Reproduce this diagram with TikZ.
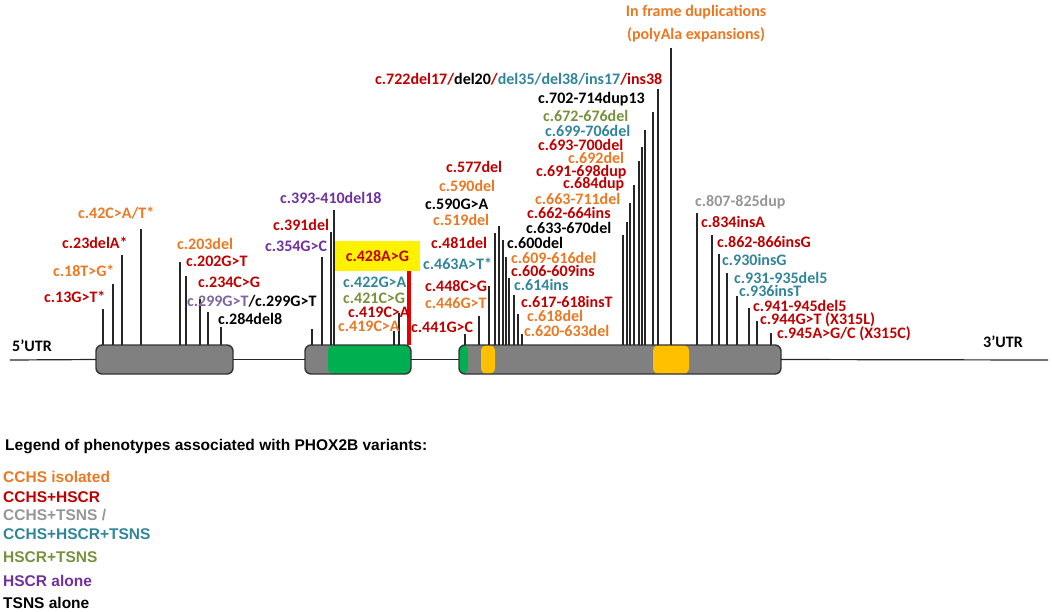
\documentclass[tikz,border=0pt]{standalone}
\usepackage{fontspec}
\setmainfont{Carlito}
\newfontfamily\legfont{Liberation Sans}
\usetikzlibrary{positioning, calc}
\definecolor{corange}{RGB}{235,120,35}
\definecolor{cred}{RGB}{192,0,0}
\definecolor{cteal}{RGB}{49,133,155}
\definecolor{colive}{RGB}{118,146,60}
\definecolor{cpurple}{RGB}{112,48,160}
\definecolor{clpurple}{RGB}{128,100,162}
\definecolor{cgray}{RGB}{150,150,150}
\definecolor{exgray}{RGB}{128,128,128}
\definecolor{exgreen}{RGB}{0,176,80}
\definecolor{gold}{RGB}{255,192,0}
\tikzset{
    lab/.style={font=\fontsize{16}{18}\selectfont\bfseries, inner sep=0pt, anchor=west}, % variant labels
    leg/.style={font=\legfont\fontsize{15.5}{18}\selectfont\bfseries, inner sep=0pt, anchor=west}, % legend lines
    tick/.style={line width=1.2pt, black!85}, % variant position marks
    exon/.style={draw=black!80, line width=1.4pt, fill=exgray, rounded corners=6pt,
        minimum height=29pt, inner sep=0pt, outer sep=0pt}, % exon boxes
    gene/.style={line width=1.2pt, black!85}, % intron / UTR line
}

\begin{document}
\begin{tikzpicture}[x=1pt, y=-1pt]
    \useasboundingbox (0,0) rectangle (1052,611);

    % gene structure
    \coordinate (s) at (10,360);
    \coordinate (e) at (1048,360);
    \node[exon, minimum width=137pt] (ex1) at (164.5,359.5) {};
    \node[exon, minimum width=106pt, path picture={
        \fill[exgreen] ([xshift=23pt]path picture bounding box.south west) rectangle (path picture bounding box.north east);
    }] (ex2) at (358,359.5) {};
    \node[exon, minimum width=322pt, path picture={
        \fill[exgreen] (path picture bounding box.south west) rectangle ([xshift=9pt]path picture bounding box.north west);
        \fill[gold] ([xshift=22pt]path picture bounding box.south west) rectangle ([xshift=36pt]path picture bounding box.north west);
        \fill[gold] ([xshift=194pt]path picture bounding box.south west) rectangle ([xshift=230pt]path picture bounding box.north west);
    }] (ex3) at (620,359.5) {};
    \draw[gene] (s) -- (ex1.west);
    \draw[gene] (ex1.east) -- (ex2.west);
    \draw[gene] (ex2.east) -- (ex3.west);
    \draw[gene] (ex3.east) -- (e);
    \node[lab] (utr5) at (12,346) {5’UTR};
    \node[lab] (utr3) at (983,342) {3’UTR};

    % variant marks
    \foreach \x/\t in {103/309, 113/284, 122/255, 141/229, 180/262, 186/276, 200/299, 208/312, 221/327,
        312/329, 322/257, 331/232, 334/210, 394/331, 399/313,
        465/334, 479/316, 489/286, 495/233, 499/226, 503/240, 506/257, 509/278, 514/295, 518/314, 522/334,
        623/235, 627/222, 630/203, 634/185, 639/161, 642/147, 645/130, 653/112, 658/89, 671/48,
        697/213, 712/235, 719/254, 727/273, 737/296, 749/308, 757/321, 771/333}
        \draw[tick] (\x,\t) -- (\x,345);

    % exon 1
    \node[lab, text=cred] (l13) at (44,297) {c.13G>T*};
    \node[lab, text=corange] (l18) at (53,271) {c.18T>G*};
    \node[lab, text=cred] (l23) at (62,243) {c.23delA*};
    \node[lab, text=corange] (l42) at (78,213) {c.42C>A/T*};
    \node[lab, text=corange] (l203) at (177,244) {c.203del};
    \node[lab, text=cred] (l202) at (186,261) {c.202G>T};
    \node[lab, text=cred] (l234) at (198,282) {c.234C>G};
    \node[lab] (l299) at (187,301) {\color{clpurple}c.299G>T\color{black}/c.299G>T};
    \node[lab] (l284) at (218,319) {c.284del8};

    % exon 2
    \node[lab, text=cpurple] (l354) at (265,246) {c.354G>C};
    \node[lab, text=cred] (l391) at (273,225) {c.391del};
    \node[lab, text=cpurple] (l393) at (280,198) {c.393-410del18};
    \node[lab, anchor=center, fill=yellow, minimum width=85pt, minimum height=30pt, text=cred] (l428) at (377.5,256) {c.428A>G};
    \draw[line width=4pt, red!90!black] ([xshift=-11pt]l428.south east) -- ([xshift=-11pt]l428.south east |- ex2.north);
    \node[lab, text=cteal] (l422) at (343,282) {c.422G>A};
    \node[lab, text=colive] (l421) at (343,298) {c.421C>G};
    \node[lab, text=cred] (l419a) at (348,312) {c.419C>A};
    \node[lab, text=corange] (l419b) at (338,326) {c.419C>A};

    % exon 3
    \node[lab, text=cred] (l441) at (411,327) {c.441G>C};
    \node[lab, text=corange] (l446) at (425,303) {c.446G>T};
    \node[lab, text=cred] (l448) at (425,286) {c.448C>G};
    \node[lab, text=cteal] (l463) at (423,264) {c.463A>T*};
    \node[lab, text=cred] (l481) at (431,243) {c.481del};
    \node[lab, text=corange] (l519) at (433,220) {c.519del};
    \node[lab] (l590g) at (425,204) {c.590G>A};
    \node[lab, text=corange] (l590d) at (439,186) {c.590del};
    \node[lab, text=cred] (l577) at (446,167) {c.577del};
    \node[lab] (l600) at (507,243) {c.600del};
    \node[lab, text=corange] (l609) at (511,258) {c.609-616del};
    \node[lab, text=cred] (l606) at (511,271) {c.606-609ins};
    \node[lab, text=cteal] (l614) at (514,285) {c.614ins};
    \node[lab, text=cred] (l617) at (521,302) {c.617-618insT};
    \node[lab, text=corange] (l618) at (527,316) {c.618del};
    \node[lab, text=corange] (l620) at (524,331) {c.620-633del};
    \node[lab] (l633) at (526,228) {c.633-670del};
    \node[lab, text=cred] (l662) at (527,213) {c.662-664ins};
    \node[lab, text=corange] (l663) at (535,199) {c.663-711del};
    \node[lab, text=cred] (l684) at (563,184) {c.684dup};
    \node[lab, text=cred] (l691) at (536,172) {c.691-698dup};
    \node[lab, text=corange] (l692) at (568,158) {c.692del};
    \node[lab, text=cred] (l693) at (538,145) {c.693-700del};
    \node[lab, text=cteal] (l699) at (545,131) {c.699-706del};
    \node[lab, text=colive] (l672) at (543,116) {c.672-676del};
    \node[lab] (l702) at (538,99) {c.702-714dup13};
    \node[lab] (l722) at (375,79) {\color{cred}c.722del17/\color{black}del20\color{cred}/\color{cteal}del35/del38/ins17\color{cred}/ins38};
    \node[lab, anchor=center, align=center, text=corange, font=\fontsize{16}{23}\selectfont\bfseries] (dup) at (696,24) {In frame duplications\\(polyAla expansions)};
    \node[lab, text=cgray] (l807) at (695,202) {c.807-825dup};
    \node[lab, text=cred] (l834) at (701,222) {c.834insA};
    \node[lab, text=cred] (l862) at (717,242) {c.862-866insG};
    \node[lab, text=cteal] (l930) at (722,260) {c.930insG};
    \node[lab, text=cteal] (l931) at (734,278) {c.931-935del5};
    \node[lab, text=cteal] (l936) at (739,291) {c.936insT};
    \node[lab, text=cred] (l941) at (753,306) {c.941-945del5};
    \node[lab, text=cred] (l944) at (760,320) {c.944G>T (X315L)};
    \node[lab, text=cred] (l945) at (777,334) {c.945A>G/C (X315C)};

    % legend
    \node[leg] (legt) at (5,447) {Legend of phenotypes associated with PHOX2B variants:};
    \node[leg, text=corange] (leg1) at (3,477) {CCHS isolated};
    \node[leg, text=cred] (leg2) at (3,497) {CCHS+HSCR};
    \node[leg, text=cgray] (leg3) at (3,515) {CCHS+TSNS /};
    \node[leg, text=cteal] (leg4) at (3,534) {CCHS+HSCR+TSNS};
    \node[leg, text=colive] (leg5) at (3,557) {HSCR+TSNS};
    \node[leg, text=cpurple] (leg6) at (3,581) {HSCR alone};
    \node[leg] (leg7) at (3,603) {TSNS alone};
\end{tikzpicture}
\end{document}
